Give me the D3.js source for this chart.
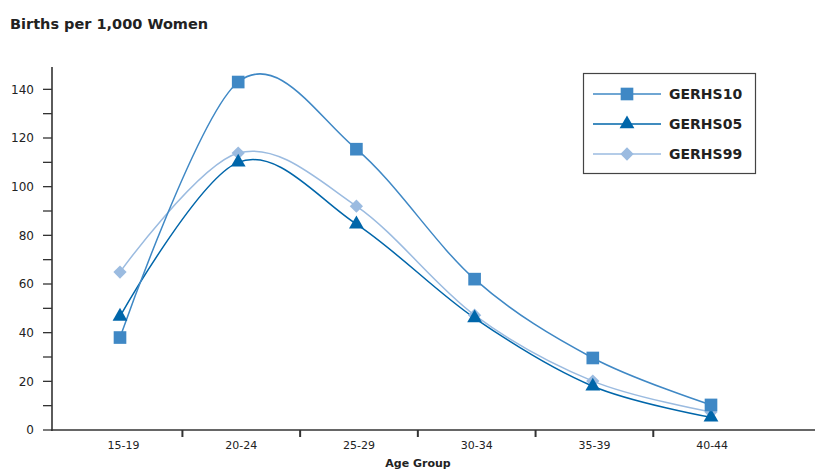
<!DOCTYPE html>
<html>
<head>
<meta charset="utf-8">
<script src="https://cdn.jsdelivr.net/npm/d3@7"></script>
<style>
  html, body { margin: 0; padding: 0; background: #fff; }
  svg { display: block; }
  text { font-family: "DejaVu Sans", Verdana, sans-serif; fill: #222; }
</style>
</head>
<body>
<svg id="chart" width="815" height="470"></svg>
<script>
const categories = ["15-19", "20-24", "25-29", "30-34", "35-39", "40-44"];
const gerhs10 = [38, 143, 115.4, 62, 29.6, 10.3];
const gerhs05 = [46.7, 110, 84.6, 46, 18, 5.2];
const gerhs99 = [64.9, 113.8, 92, 47.2, 20.1, 7.4];
const yTicks = [0, 20, 40, 60, 80, 100, 120, 140];
const yMinorTicks = [10, 30, 50, 70, 90, 110, 130];
const seriesNames = ["GERHS10", "GERHS05", "GERHS99"];

const series = [
  { name: seriesNames[0], values: gerhs10, color: "#3f88c5", lineColor: "#3f88c5", symbol: d3.symbolSquare, size: 160, rot: 0 },
  { name: seriesNames[1], values: gerhs05, color: "#0066aa", lineColor: "#0066aa", symbol: d3.symbolTriangle, size: 95, rot: 0 },
  { name: seriesNames[2], values: gerhs99, color: "#9bbbe0", lineColor: "#9bbbe0", symbol: d3.symbolSquare, size: 88, rot: 45 }
];

const svg = d3.select("#chart");

const y = d3.scaleLinear().domain([0, 150]).range([430, 65]);
const xBand = d3.scaleBand().domain(categories).range([64.7, 771]).padding(0);
const xPt = d3.scalePoint().domain(categories).range([120, 711]);

// Title
svg.append("text").attr("x", 10).attr("y", 29)
  .style("font-size", "14.5px").style("font-weight", "bold")
  .text("Births per 1,000 Women");

// Y axis
const yAxis = svg.append("g");
yAxis.append("line").attr("x1", 52).attr("x2", 52).attr("y1", 67).attr("y2", 431)
  .attr("stroke", "#333").attr("stroke-width", 1.6);
yAxis.selectAll(".maj").data(yTicks).join("line")
  .attr("x1", 43).attr("x2", 52).attr("y1", d => y(d)).attr("y2", d => y(d))
  .attr("stroke", "#333").attr("stroke-width", 1.3);
yAxis.selectAll(".min").data(yMinorTicks).join("line")
  .attr("x1", 43).attr("x2", 52).attr("y1", d => y(d)).attr("y2", d => y(d))
  .attr("stroke", "#333").attr("stroke-width", 1.3);
yAxis.selectAll("text").data(yTicks).join("text")
  .attr("x", 34).attr("y", d => y(d)).attr("dy", "0.36em")
  .attr("text-anchor", "end").style("font-size", "12px")
  .text(d => d);

// X axis
const xAxis = svg.append("g");
xAxis.append("line").attr("x1", 51).attr("x2", 815).attr("y1", 430).attr("y2", 430)
  .attr("stroke", "#333").attr("stroke-width", 1.6);
xAxis.selectAll(".tick").data(categories.slice(1)).join("line")
  .attr("x1", d => xBand(d)).attr("x2", d => xBand(d))
  .attr("y1", 430).attr("y2", 437)
  .attr("stroke", "#333").attr("stroke-width", 2);
xAxis.selectAll("text").data(categories).join("text")
  .attr("x", d => xBand(d) + xBand.bandwidth() / 2).attr("y", 449)
  .attr("text-anchor", "middle").style("font-size", "11px")
  .text(d => d);
svg.append("text").attr("x", 418).attr("y", 467)
  .attr("text-anchor", "middle").style("font-size", "11px").style("font-weight", "bold")
  .text("Age Group");

// Lines
const line = d3.line()
  .x((d, i) => xPt(categories[i]))
  .y(d => y(d))
  .curve(d3.curveCardinal.tension(0));

const order = [2, 1, 0];
order.forEach(k => {
  const s = series[k];
  svg.append("path").datum(s.values)
    .attr("d", line).attr("fill", "none")
    .attr("stroke", s.lineColor).attr("stroke-width", 1.5);
});
order.forEach(k => {
  const s = series[k];
  svg.append("g").selectAll("path").data(s.values).join("path")
    .attr("d", d3.symbol().type(s.symbol).size(s.size))
    .attr("transform", (d, i) => `translate(${xPt(categories[i])},${y(d)}) rotate(${s.rot})`)
    .attr("fill", s.color);
});

// Legend
const lg = svg.append("g");
lg.append("rect").attr("x", 583.5).attr("y", 73.5).attr("width", 172).attr("height", 100)
  .attr("fill", "#fff").attr("stroke", "#444").attr("stroke-width", 1.2);
series.forEach((s, i) => {
  const cy = 94 + i * 30;
  lg.append("line").attr("x1", 593).attr("x2", 661).attr("y1", cy).attr("y2", cy)
    .attr("stroke", s.lineColor).attr("stroke-width", 1.5);
  lg.append("path").attr("d", d3.symbol().type(s.symbol).size(s.size))
    .attr("transform", `translate(627,${cy}) rotate(${s.rot})`).attr("fill", s.color);
  lg.append("text").attr("x", 669).attr("y", cy).attr("dy", "0.36em")
    .style("font-size", "14px").style("font-weight", "bold").text(s.name);
});
</script>
</body>
</html>
